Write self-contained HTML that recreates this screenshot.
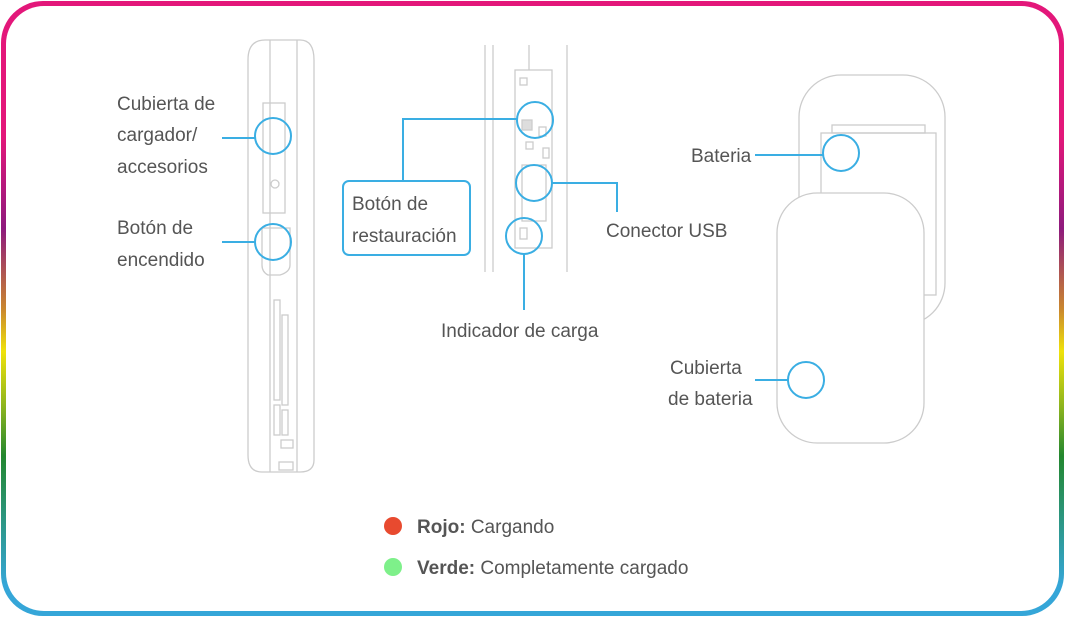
<!DOCTYPE html>
<html><head><meta charset="utf-8"><style>
html,body{margin:0;padding:0;background:#fff;}
#o{position:absolute;left:1px;top:1px;width:1063px;height:615px;border-radius:42px;background:linear-gradient(180deg,#e3177a 0%,#e3177a 22%,#8e1a7d 37%,#c9862f 50%,#efe20b 57%,#8cb41e 66%,#23872f 74%,#35a6d8 95%,#35a6d8 100%);}
#i{position:absolute;left:5px;top:5px;right:5px;bottom:5px;border-radius:38px;background:#fff;}
svg{position:absolute;left:0;top:0}
text{font-family:"Liberation Sans",sans-serif;fill:#555;font-size:19px}
</style></head><body>
<div id="o"><div id="i"></div></div>
<svg width="1065" height="618" viewBox="0 0 1065 618">
<g fill="none" stroke="#ccc" stroke-width="1.3">
<!-- left device -->
<path d="M265 40 H300 Q314 40 314 60 V460 Q314 472 300 472 H262 Q248 472 248 455 V60 Q248 40 265 40 Z"/>
<line x1="270" y1="40" x2="270" y2="472"/><line x1="297" y1="40" x2="297" y2="472"/>
<rect x="263" y="103" width="22" height="110"/>
<circle cx="275" cy="184" r="4"/>
<path d="M262 228 H290 V265 Q290 272 280 275 H268 Q262 272 262 265 Z"/>
<rect x="274" y="300" width="6" height="100"/><rect x="282" y="315" width="6" height="90"/>
<rect x="274" y="405" width="6" height="30"/><rect x="282" y="410" width="6" height="25"/>
<rect x="281" y="440" width="12" height="8"/><rect x="279" y="462" width="14" height="8"/>
<!-- middle -->
<line x1="485" y1="45" x2="485" y2="272"/><line x1="493" y1="45" x2="493" y2="272"/>
<line x1="567" y1="45" x2="567" y2="272"/><line x1="529" y1="45" x2="529" y2="70"/>
<rect x="515" y="70" width="37" height="178"/>
<rect x="520" y="78" width="7" height="7"/>
<rect x="522" y="120" width="10" height="10" fill="#ddd"/>
<rect x="539" y="127" width="7" height="9"/><rect x="526" y="142" width="7" height="7"/>
<rect x="543" y="148" width="6" height="10"/>
<rect x="522" y="165" width="24" height="56"/>
<rect x="520" y="228" width="7" height="11"/>
<!-- right -->
<rect x="799" y="75" width="146" height="250" rx="42"/>
<rect x="832" y="125" width="93" height="8"/>
<rect x="821" y="133" width="115" height="162"/>
<rect x="777" y="193" width="147" height="250" rx="40" fill="#fff"/>
</g>
<g fill="none" stroke="#3aaee3" stroke-width="2">
<circle cx="273" cy="136" r="18"/><line x1="222" y1="138" x2="255" y2="138"/>
<circle cx="273" cy="242" r="18"/><line x1="222" y1="242" x2="255" y2="242"/>
<circle cx="535" cy="120" r="18"/><polyline points="517,119 403,119 403,181"/>
<circle cx="534" cy="183" r="18"/><polyline points="552,183 617,183 617,212"/>
<circle cx="524" cy="236" r="18"/><line x1="524" y1="254" x2="524" y2="310"/>
<circle cx="841" cy="153" r="18"/><line x1="755" y1="155" x2="823" y2="155"/>
<circle cx="806" cy="380" r="18"/><line x1="755" y1="380" x2="788" y2="380"/>
<rect x="343" y="181" width="127" height="74" rx="6" stroke-width="2"/>
</g>
<text x="117" y="110">Cubierta de</text>
<text x="117" y="141">cargador/</text>
<text x="117" y="173">accesorios</text>
<text x="117" y="234">Botón de</text>
<text x="117" y="266">encendido</text>
<text x="352" y="210">Botón de</text>
<text x="352" y="242">restauración</text>
<text x="606" y="237">Conector USB</text>
<text x="441" y="337">Indicador de carga</text>
<text x="691" y="162">Bateria</text>
<text x="670" y="374">Cubierta</text>
<text x="668" y="405">de bateria</text>
<circle cx="393" cy="526" r="9" fill="#e84a2f"/>
<circle cx="393" cy="567" r="9" fill="#7ef08a"/>
<text x="417" y="533"><tspan font-weight="bold">Rojo:</tspan> Cargando</text>
<text x="417" y="574"><tspan font-weight="bold">Verde:</tspan> Completamente cargado</text>
</svg>
</body></html>
